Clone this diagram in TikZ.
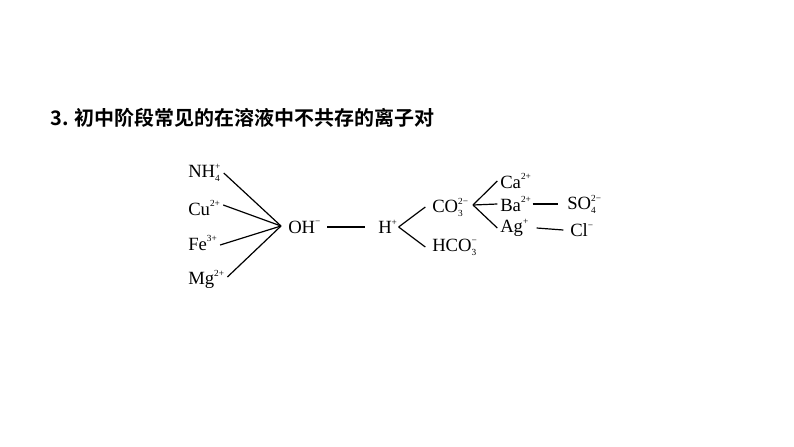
\documentclass[tikz,border=0pt]{standalone}
\usepackage{fontspec}
\setmainfont{Liberation Serif}
\newfontfamily\cjkbold[BoldFont=* Bold]{Noto Sans CJK SC}
\usetikzlibrary{positioning}
% ion with stacked subscript and charge
\newcommand\ionsub[3]{#1\rlap{\raisebox{-0.45ex}{\scriptsize#2}}\raisebox{0.95ex}{\scriptsize#3}}
\newcommand\ionch[2]{#1\raisebox{0.95ex}{\scriptsize#2}}
\tikzset{
    ion/.style={anchor=west, inner sep=0pt, font=\fontsize{14}{16}\selectfont},
    bond/.style={line width=0.9pt, black},
    title/.style={anchor=west, inner sep=0pt, font=\cjkbold\bfseries\fontsize{15}{18}\selectfont}
}
\begin{document}
\begin{tikzpicture}[x=0.75pt, y=-0.75pt]
        \useasboundingbox (0,0) rectangle (794,447);
        % Title
        \node[title] (Head) at (50,118) {3. 初中阶段常见的在溶液中不共存的离子对};

        % Cations on the left
        \node[ion] (NH) at (188,173) {\ionsub{NH}{4}{+}};
        \node[ion] (Cu) at (188,208) {\ionch{Cu}{2+}};
        \node[ion] (Fe) at (188,243) {\ionch{Fe}{3+}};
        \node[ion] (Mg) at (188,279) {\ionch{Mg}{2+}};

        % Middle chain
        \node[ion] (OH) at (288,227) {\ionch{OH}{−}};
        \node[ion] (H) at (378,227) {\ionch{H}{+}};
        \node[ion] (CO) at (432,207) {\ionsub{CO}{3}{2−}};
        \node[ion] (HCO) at (432,247) {\ionsub{HCO}{3}{−}};

        % Right group
        \node[ion] (Ca) at (500,181) {\ionch{Ca}{2+}};
        \node[ion] (Ba) at (500,204) {\ionch{Ba}{2+}};
        \node[ion] (Ag) at (500,228) {\ionch{Ag}{+}};
        \node[ion] (SO) at (567,204) {\ionsub{SO}{4}{2−}};
        \node[ion] (Cl) at (570,230) {\ionch{Cl}{−}};

        \coordinate (Hub) at (281,226);
        \coordinate (Fork) at (473,205);

        % Bonds
        \foreach \n/\y in {NH/173,Cu/205,Fe/245,Mg/277}
            \draw[bond] (\n.east |- 0,\y) ++(3,0) -- (Hub);
        \draw[bond] ([xshift=5pt]OH.east) -- ([xshift=-10pt]H.west);
        \draw[bond] ([xshift=1pt]H.east) -- ([xshift=-5pt]CO.west);
        \draw[bond] ([xshift=1pt]H.east) -- ([xshift=-5pt]HCO.west);
        \draw[bond] (Fork) -- ([xshift=-2pt]Ca.west);
        \draw[bond] (Fork) -- ([xshift=-2pt]Ba.west);
        \draw[bond] (Fork) -- ([xshift=-2pt]Ag.west);
        \draw[bond] ([xshift=1pt]Ba.east) -- ([xshift=-7pt]SO.west);
        \draw[bond] ([xshift=6pt]Ag.east) -- ([xshift=-5pt]Cl.west);
\end{tikzpicture}
\end{document}
